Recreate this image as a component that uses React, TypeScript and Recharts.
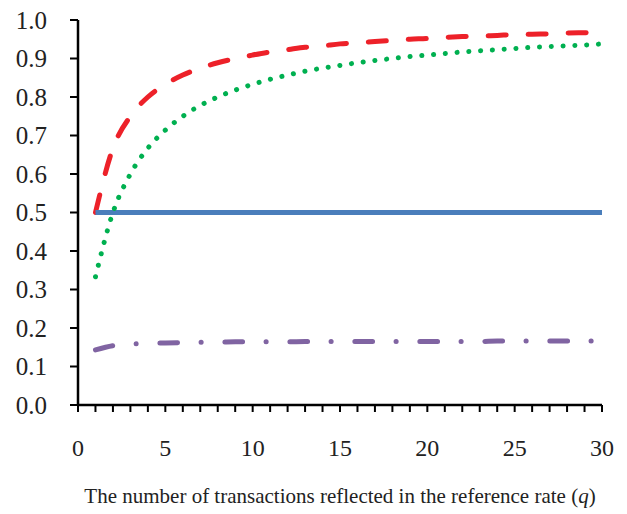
import React from 'react';
import { LineChart, Line, XAxis, YAxis, Label } from 'recharts';

// q = 1..30
const qValues = [
  1, 2, 3, 4, 5, 6, 7, 8, 9, 10, 11, 12, 13, 14, 15,
  16, 17, 18, 19, 20, 21, 22, 23, 24, 25, 26, 27, 28, 29, 30,
];

const flatSeries = [
  0.5, 0.5, 0.5, 0.5, 0.5, 0.5, 0.5, 0.5, 0.5, 0.5, 0.5, 0.5, 0.5, 0.5, 0.5,
  0.5, 0.5, 0.5, 0.5, 0.5, 0.5, 0.5, 0.5, 0.5, 0.5, 0.5, 0.5, 0.5, 0.5, 0.5,
];

const dashedSeries = [
  0.5, 0.667, 0.75, 0.8, 0.833, 0.857, 0.875, 0.889, 0.9, 0.909, 0.917, 0.923, 0.929, 0.933, 0.938,
  0.941, 0.944, 0.947, 0.95, 0.952, 0.955, 0.957, 0.958, 0.96, 0.962, 0.963, 0.964, 0.966, 0.967, 0.968,
];

const dottedSeries = [
  0.333, 0.5, 0.6, 0.667, 0.714, 0.75, 0.778, 0.8, 0.818, 0.833, 0.846, 0.857, 0.867, 0.875, 0.882,
  0.889, 0.895, 0.9, 0.905, 0.909, 0.913, 0.917, 0.92, 0.923, 0.926, 0.929, 0.931, 0.933, 0.935, 0.938,
];

const dashDotSeries = [
  0.143, 0.154, 0.158, 0.16, 0.161, 0.162, 0.163, 0.163, 0.164, 0.164, 0.164, 0.164, 0.165, 0.165, 0.165,
  0.165, 0.165, 0.165, 0.165, 0.165, 0.165, 0.165, 0.165, 0.166, 0.166, 0.166, 0.166, 0.166, 0.166, 0.166,
];

const xTicks = [
  0, 1, 2, 3, 4, 5, 6, 7, 8, 9, 10, 11, 12, 13, 14, 15,
  16, 17, 18, 19, 20, 21, 22, 23, 24, 25, 26, 27, 28, 29, 30,
];
const yTicks = [0, 0.1, 0.2, 0.3, 0.4, 0.5, 0.6, 0.7, 0.8, 0.9, 1.0];

const data = qValues.map((q, i) => ({
  q,
  flat: flatSeries[i],
  dashed: dashedSeries[i],
  dotted: dottedSeries[i],
  dashDot: dashDotSeries[i],
}));

const SERIF = 'Liberation Serif, Times New Roman, serif';
const tickFont = { fontFamily: SERIF, fontSize: 24, fill: '#222' };

const AxisTitle = ({ viewBox }: any) => {
  const cx = viewBox.x + viewBox.width / 2;
  return (
    <text x={cx} y={503} textAnchor="middle" fontFamily={SERIF} fontSize={21} fill="#222">
      The number of transactions reflected in the reference rate (
      <tspan fontStyle="italic">q</tspan>)
    </text>
  );
};

export default function App() {
  return (
    <div style={{ position: 'absolute', left: 0, top: 0, background: '#fff' }}>
      <LineChart
        width={627}
        height={514}
        data={data}
        margin={{ top: 20, right: 25, left: 18, bottom: 0 }}
      >
        <XAxis
          dataKey="q"
          type="number"
          domain={[0, 30]}
          ticks={xTicks}
          interval={0}
          height={109}
          tickSize={7}
          tickMargin={27}
          // minor ticks every unit, numbers only every fifth
          tickFormatter={(v: number) => (v % 5 === 0 ? String(v) : '')}
          axisLine={{ stroke: '#000', strokeWidth: 2.5 }}
          tickLine={{ stroke: '#000', strokeWidth: 2 }}
          tick={tickFont}
        >
          <Label content={<AxisTitle />} />
        </XAxis>
        <YAxis
          type="number"
          domain={[0, 1]}
          ticks={yTicks}
          interval={0}
          width={60}
          tickSize={8}
          tickMargin={23}
          tickFormatter={(v: number) => v.toFixed(1)}
          axisLine={{ stroke: '#000', strokeWidth: 2.5 }}
          tickLine={{ stroke: '#000', strokeWidth: 2 }}
          tick={{ ...tickFont, fontSize: 25 }}
        />
        <Line
          dataKey="dashed"
          type="monotone"
          stroke="#ED2129"
          strokeWidth={5}
          strokeLinecap="round"
          strokeDasharray="18 22"
          dot={false}
          isAnimationActive={false}
        />
        <Line
          dataKey="flat"
          type="linear"
          stroke="#4A7EBB"
          strokeWidth={5}
          dot={false}
          isAnimationActive={false}
        />
        <Line
          dataKey="dotted"
          type="monotone"
          stroke="#00B050"
          strokeWidth={5}
          strokeLinecap="round"
          strokeDasharray="0.1 11.7"
          dot={false}
          isAnimationActive={false}
        />
        <Line
          dataKey="dashDot"
          type="monotone"
          stroke="#8064A2"
          strokeWidth={5}
          strokeLinecap="round"
          strokeDasharray="17.7 23.5 0.1 23.7"
          dot={false}
          isAnimationActive={false}
        />
      </LineChart>
    </div>
  );
}
